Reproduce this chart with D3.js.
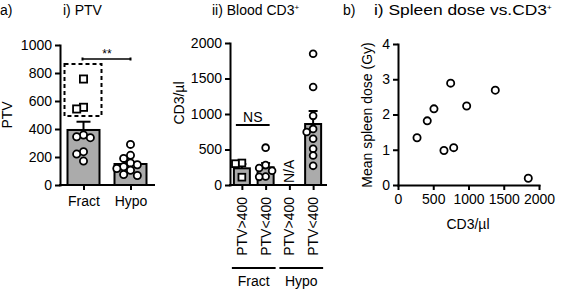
<!DOCTYPE html>
<html>
<head>
<meta charset="utf-8">
<script src="https://cdn.jsdelivr.net/npm/d3@7/dist/d3.min.js"></script>
<style>
  body { margin: 0; background: #fff; }
  text { font-family: 'Liberation Sans', Arial, sans-serif; fill: #000; }
</style>
</head>
<body>
<svg id="chart" width="566" height="289"></svg>
<script>
// ---- data ----
const ptvGroups = ['Fract', 'Hypo'];
const ptvMeans = [393, 150];
const ptvSem = [59, 15];
const ptvFractOver400 = [757, 555, 543];
const ptvFractUnder400 = [357, 345, 338, 238, 221, 171];
const ptvHypo = [290, 212, 190, 158, 145, 130, 118, 105, 75, 68];
const ptvTicks = [0, 200, 400, 600, 800, 1000];

const cd3Groups = ['fract-over', 'fract-under', 'hypo-over', 'hypo-under'];
const cd3Labels = ['PTV>400', 'PTV<400', 'PTV>400', 'PTV<400'];
const cd3Means = [235, 249, null, 859];
const cd3Sem = [60, 60, null, 183];
const cd3FractOver400 = [310, 300, 110];
const cd3FractUnder400 = [526, 280, 240, 200, 120, 115];
const cd3HypoUnder400 = [1848, 1380, 974, 790, 747, 652, 510, 415, 270];
const cd3Ticks = [0, 500, 1000, 1500, 2000];

const spleenCd3 = [270, 415, 510, 652, 747, 790, 974, 1380, 1848];
const spleenDose = [1.34, 1.82, 2.16, 0.98, 2.89, 1.06, 2.24, 2.69, 0.19];
const spleenXTicks = [0, 500, 1000, 1500, 2000];
const spleenYTicks = [0, 1, 2, 3, 4];

const svg = d3.select('#chart');
const FONT = 14;
const BAR_FILL = '#ababab';
const fmt = d3.format('d');

// simple deterministic beeswarm around a centre
const swarm = (items, y, cx, r) => {
  const placed = [];
  return items.map((d) => {
    const py = y(d.v);
    let px = cx;
    for (const off of [0, -1, 1, -2, 2, -3, 3]) {
      const tx = cx + off * r * 1.9;
      if (placed.every((p) => Math.hypot(p.x - tx, p.y - py) >= r * 1.9)) {
        px = tx;
        break;
      }
    }
    placed.push({ x: px, y: py });
    return { ...d, x: px, y: py };
  });
};

const drawMarks = (g, pts, r) => {
  g.selectAll(null)
    .data(pts.filter((d) => d.shape === 'circle'))
    .join('circle')
    .attr('cx', (d) => d.x)
    .attr('cy', (d) => d.y)
    .attr('r', r)
    .attr('fill', '#fff')
    .attr('stroke', '#000')
    .attr('stroke-width', 1.8);
  g.selectAll(null)
    .data(pts.filter((d) => d.shape === 'square'))
    .join('rect')
    .attr('x', (d) => d.x - r)
    .attr('y', (d) => d.y - r)
    .attr('width', r * 2)
    .attr('height', r * 2)
    .attr('fill', '#fff')
    .attr('stroke', '#000')
    .attr('stroke-width', 1.8);
};

const styleAxis = (g) => {
  g.selectAll('path.domain').attr('stroke-width', 2).attr('stroke-linecap', 'square');
  g.selectAll('.tick line').attr('stroke-width', 2);
  g.selectAll('.tick text')
    .style('font-family', "'Liberation Sans', Arial, sans-serif")
    .style('font-size', FONT + 'px');
};

// ---------- panel a) i) PTV ----------
{
  const y = d3.scaleLinear().domain([0, 1000]).range([185, 45]);
  const x = d3.scalePoint().domain(ptvGroups).range([60, 154]).padding(0.5);
  const bw = 32;

  svg.append('text').attr('x', 0).attr('y', 15).style('font-size', FONT + 'px').text('a)');
  svg.append('text').attr('x', 63).attr('y', 15).style('font-size', FONT + 'px').text('i) PTV');

  svg.append('text')
    .attr('transform', `translate(12, 115) rotate(-90)`)
    .attr('text-anchor', 'middle')
    .style('font-size', FONT + 'px')
    .text('PTV');

  svg.selectAll(null)
    .data(ptvGroups)
    .join('rect')
    .attr('x', (d) => x(d) - bw / 2)
    .attr('y', (d, i) => y(ptvMeans[i]))
    .attr('width', bw)
    .attr('height', (d, i) => y(0) - y(ptvMeans[i]))
    .attr('fill', BAR_FILL)
    .attr('stroke', '#000')
    .attr('stroke-width', 2);

  // error bars (mean + SEM)
  ptvGroups.forEach((g, i) => {
    const cx = x(g);
    svg.append('line').attr('x1', cx).attr('x2', cx)
      .attr('y1', y(ptvMeans[i])).attr('y2', y(ptvMeans[i] + ptvSem[i]))
      .attr('stroke', '#000').attr('stroke-width', 2);
    svg.append('line').attr('x1', cx - 7).attr('x2', cx + 7)
      .attr('y1', y(ptvMeans[i] + ptvSem[i])).attr('y2', y(ptvMeans[i] + ptvSem[i]))
      .attr('stroke', '#000').attr('stroke-width', 2);
  });

  const fractItems = [
    ...ptvFractOver400.map((v) => ({ v, shape: 'square' })),
    ...ptvFractUnder400.map((v) => ({ v, shape: 'circle' })),
  ];
  drawMarks(svg.append('g'), swarm(fractItems, y, x('Fract'), 3.6), 3.6);
  drawMarks(svg.append('g'), swarm(ptvHypo.map((v) => ({ v, shape: 'circle' })), y, x('Hypo'), 3.6), 3.6);

  // dashed box round PTV>400
  svg.append('rect')
    .attr('x', x('Fract') - 19)
    .attr('y', y(864))
    .attr('width', 37)
    .attr('height', y(493) - y(864))
    .attr('fill', 'none')
    .attr('stroke', '#000')
    .attr('stroke-width', 2)
    .attr('stroke-dasharray', '4,3');

  // significance
  const sy = y(900);
  svg.append('line').attr('x1', x('Fract') - 1).attr('x2', x('Hypo'))
    .attr('y1', sy).attr('y2', sy).attr('stroke', '#000').attr('stroke-width', 1.5);
  [x('Fract') - 1, x('Hypo')].forEach((sx) => {
    svg.append('line').attr('x1', sx).attr('x2', sx).attr('y1', sy - 1.5).attr('y2', sy + 1.5)
      .attr('stroke', '#000').attr('stroke-width', 2);
  });
  svg.append('text')
    .attr('x', (x('Fract') + x('Hypo')) / 2)
    .attr('y', sy - 1)
    .attr('text-anchor', 'middle')
    .style('font-size', '12px')
    .text('**');

  const gy = svg.append('g').attr('transform', 'translate(60,0)')
    .call(d3.axisLeft(y).tickValues(ptvTicks).tickFormat(fmt).tickSize(5).tickSizeOuter(0).tickPadding(3));
  styleAxis(gy);
  const gx = svg.append('g').attr('transform', 'translate(0,185)')
    .call(d3.axisBottom(x).tickSize(5).tickSizeOuter(0).tickPadding(6));
  gx.select('path.domain').attr('d', 'M60,0H154');
  styleAxis(gx);
}

// ---------- panel a) ii) Blood CD3+ ----------
{
  const y = d3.scaleLinear().domain([0, 2000]).range([185, 43]);
  const x = d3.scalePoint().domain(cd3Groups).range([230, 325]).padding(0.5);
  const bw = 16;

  const title = svg.append('text').attr('x', 212).attr('y', 15).style('font-size', FONT + 'px');
  title.append('tspan').text('ii) Blood CD3');
  title.append('tspan').attr('dy', -5).style('font-size', '8px').text('+');

  svg.append('text')
    .attr('transform', `translate(184, 103) rotate(-90)`)
    .attr('text-anchor', 'middle')
    .style('font-size', FONT + 'px')
    .text('CD3/\u00b5l');

  const barData = cd3Groups.map((g, i) => ({ g, m: cd3Means[i], s: cd3Sem[i] })).filter((d) => d.m != null);
  svg.selectAll(null)
    .data(barData)
    .join('rect')
    .attr('x', (d) => x(d.g) - bw / 2)
    .attr('y', (d) => y(d.m))
    .attr('width', bw)
    .attr('height', (d) => y(0) - y(d.m))
    .attr('fill', BAR_FILL)
    .attr('stroke', '#000')
    .attr('stroke-width', 2);

  barData.forEach((d) => {
    const cx = x(d.g);
    svg.append('line').attr('x1', cx).attr('x2', cx)
      .attr('y1', y(d.m)).attr('y2', y(d.m + d.s))
      .attr('stroke', '#000').attr('stroke-width', 2);
    svg.append('line').attr('x1', cx - 4.5).attr('x2', cx + 4.5)
      .attr('y1', y(d.m + d.s)).attr('y2', y(d.m + d.s))
      .attr('stroke', '#000').attr('stroke-width', 2);
  });

  drawMarks(svg.append('g'), swarm(cd3FractOver400.map((v) => ({ v, shape: 'square' })), y, x('fract-over'), 3.4), 3.4);
  drawMarks(svg.append('g'), swarm(cd3FractUnder400.map((v) => ({ v, shape: 'circle' })), y, x('fract-under'), 3.4), 3.4);
  drawMarks(svg.append('g'), swarm(cd3HypoUnder400.map((v) => ({ v, shape: 'circle' })), y, x('hypo-under'), 3.4), 3.4);

  // N/A
  svg.append('text')
    .attr('transform', `translate(${x('hypo-over') + 5}, 183) rotate(-90)`)
    .style('font-size', FONT + 'px')
    .text('N/A');

  // NS
  const ny = y(845);
  svg.append('line').attr('x1', x('fract-over') - 6).attr('x2', x('fract-under') + 4)
    .attr('y1', ny).attr('y2', ny).attr('stroke', '#000').attr('stroke-width', 2);
  svg.append('text')
    .attr('x', (x('fract-over') + x('fract-under')) / 2 - 1)
    .attr('y', ny - 3)
    .attr('text-anchor', 'middle')
    .style('font-size', FONT + 'px')
    .text('NS');

  const gy = svg.append('g').attr('transform', 'translate(230,0)')
    .call(d3.axisLeft(y).tickValues(cd3Ticks).tickFormat(fmt).tickSize(5).tickSizeOuter(0).tickPadding(3));
  styleAxis(gy);
  const gx = svg.append('g').attr('transform', 'translate(0,185)')
    .call(d3.axisBottom(x).tickSize(5).tickSizeOuter(0).tickFormat(''));
  gx.select('path.domain').attr('d', 'M230,0H326');
  styleAxis(gx);

  svg.selectAll(null)
    .data(cd3Groups)
    .join('text')
    .attr('transform', (d) => `translate(${x(d) + 5}, 197) rotate(-90)`)
    .attr('text-anchor', 'end')
    .style('font-size', FONT + 'px')
    .text((d, i) => cd3Labels[i]);

  // group brackets
  const groups = [
    { name: 'Fract', a: 'fract-over', b: 'fract-under' },
    { name: 'Hypo', a: 'hypo-over', b: 'hypo-under' },
  ];
  groups.forEach((gr) => {
    svg.append('line')
      .attr('x1', x(gr.a) - 10).attr('x2', x(gr.b) + 10)
      .attr('y1', 268).attr('y2', 268)
      .attr('stroke', '#000').attr('stroke-width', 2);
    svg.append('text')
      .attr('x', (x(gr.a) + x(gr.b)) / 2)
      .attr('y', 286)
      .attr('text-anchor', 'middle')
      .style('font-size', FONT + 'px')
      .text(gr.name);
  });
}

// ---------- panel b) Spleen dose vs CD3+ ----------
{
  const x = d3.scaleLinear().domain([0, 2000]).range([398, 539]);
  const y = d3.scaleLinear().domain([0, 4]).range([185, 44]);

  svg.append('text').attr('x', 343).attr('y', 15).style('font-size', FONT + 'px').text('b)');
  const title = svg.append('text').attr('x', 374).attr('y', 15).style('font-size', '15px');
  title.append('tspan')
    .attr('textLength', 173)
    .attr('lengthAdjust', 'spacingAndGlyphs')
    .text('i) Spleen dose vs.CD3');
  title.append('tspan').attr('dy', -5).style('font-size', '8px').text('+');

  svg.append('text')
    .attr('transform', `translate(372, 115) rotate(-90)`)
    .attr('text-anchor', 'middle')
    .style('font-size', FONT + 'px')
    .text('Mean spleen dose (Gy)');

  svg.append('text')
    .attr('x', 468)
    .attr('y', 229)
    .attr('text-anchor', 'middle')
    .style('font-size', FONT + 'px')
    .text('CD3/\u00b5l');

  svg.selectAll(null)
    .data(spleenCd3)
    .join('circle')
    .attr('cx', (d) => x(d))
    .attr('cy', (d, i) => y(spleenDose[i]))
    .attr('r', 3.6)
    .attr('fill', '#fff')
    .attr('stroke', '#000')
    .attr('stroke-width', 1.8);

  const gy = svg.append('g').attr('transform', 'translate(398,0)')
    .call(d3.axisLeft(y).tickValues(spleenYTicks).tickFormat(fmt).tickSize(5).tickSizeOuter(0).tickPadding(3));
  styleAxis(gy);
  const gx = svg.append('g').attr('transform', 'translate(0,185)')
    .call(d3.axisBottom(x).tickValues(spleenXTicks).tickFormat(fmt).tickSize(5).tickSizeOuter(0).tickPadding(4));
  styleAxis(gx);
}
</script>
</body>
</html>
